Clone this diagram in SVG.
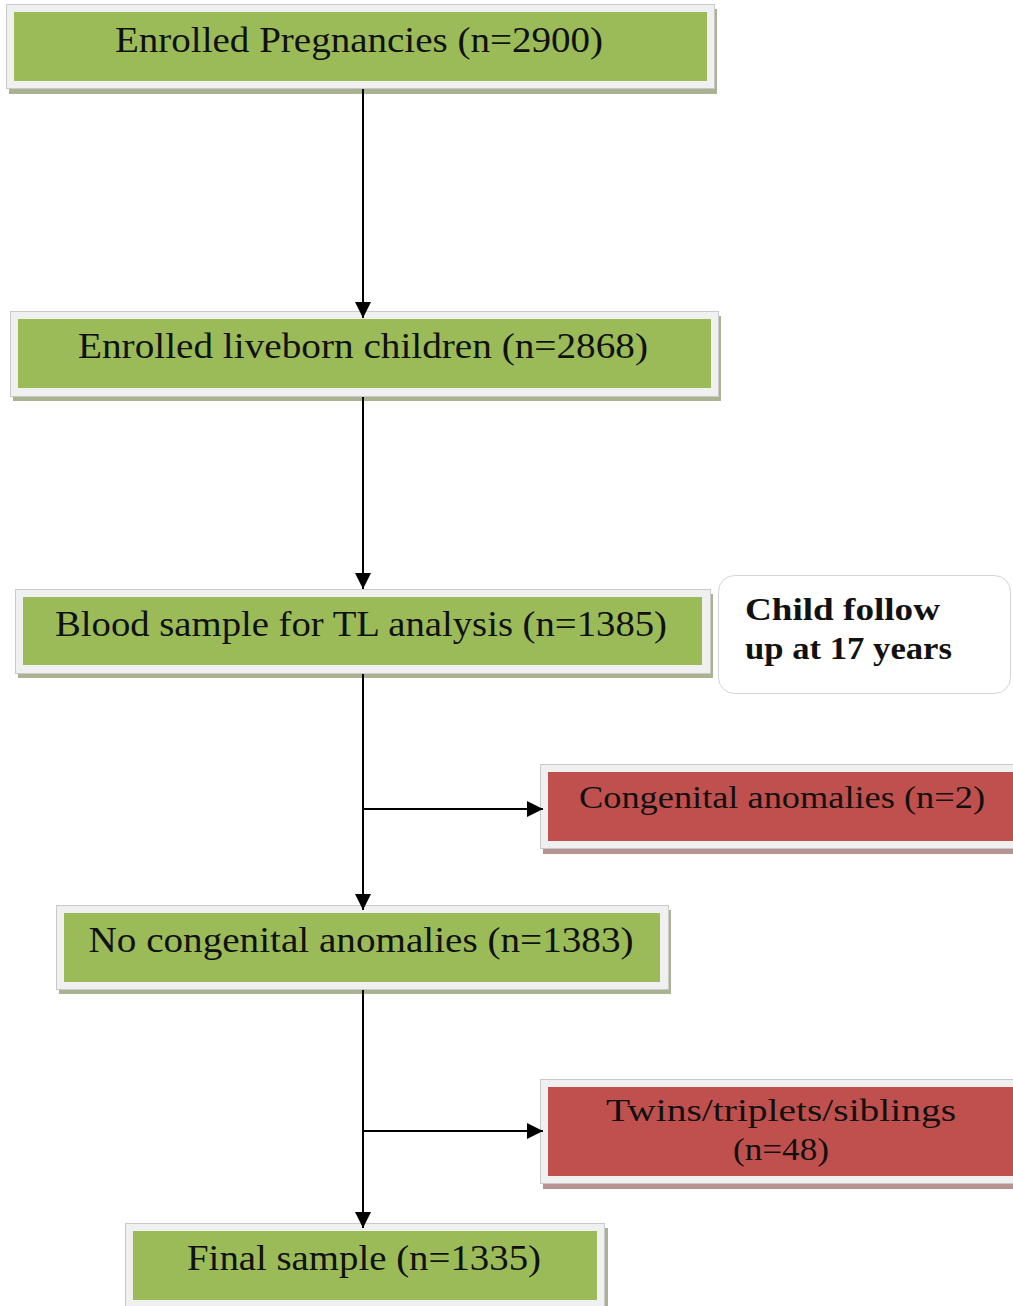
<svg xmlns="http://www.w3.org/2000/svg" width="1013" height="1306" viewBox="0 0 1013 1306">
  <style>
    .frame { fill: #f0f0f0; stroke: #c9c9c9; stroke-width: 1; }
    .shadow-g { fill: #a9b291; }
    .shadow-r { fill: #b79392; }
    .green { fill: #9bbb59; }
    .red { fill: #c0504d; }
    .label { font-family: "Liberation Serif", "Times New Roman", serif; fill: #111; }
    .big { font-size: 36px; }
    .mid { font-size: 31px; }
    .note { font-size: 31px; font-weight: bold; }
    .conn { stroke: #000; stroke-width: 2; fill: none; }
  </style>
  <defs>
    <marker id="arrow" viewBox="0 0 16 16" refX="16" refY="8" markerWidth="16" markerHeight="16" markerUnits="userSpaceOnUse" orient="auto">
      <path d="M0,0 L16,8 L0,16 z" fill="#000"/>
    </marker>
  </defs>
  <rect width="1013" height="1306" fill="#ffffff"/>

  <g id="enrolled-pregnancies">
    <rect class="shadow-g" x="9" y="9" width="708" height="85"/>
    <rect class="frame" x="6.5" y="4.5" width="708" height="84"/>
    <rect class="green" x="14" y="12" width="693" height="69"/>
    <text class="label big" x="359" y="52" text-anchor="middle" textLength="488" lengthAdjust="spacingAndGlyphs">Enrolled Pregnancies (n=2900)</text>
  </g>

  <g id="liveborn-children">
    <rect class="shadow-g" x="13" y="316" width="708" height="85"/>
    <rect class="frame" x="10.5" y="311.5" width="708" height="85"/>
    <rect class="green" x="18" y="319" width="693" height="69"/>
    <text class="label big" x="363" y="358" text-anchor="middle" textLength="570" lengthAdjust="spacingAndGlyphs">Enrolled liveborn children (n=2868)</text>
  </g>

  <g id="blood-sample">
    <rect class="shadow-g" x="18" y="594" width="695" height="84"/>
    <rect class="frame" x="15.5" y="589.5" width="695" height="84"/>
    <rect class="green" x="23" y="597" width="679" height="68"/>
    <text class="label big" x="361" y="636" text-anchor="middle" textLength="612" lengthAdjust="spacingAndGlyphs">Blood sample for TL analysis (n=1385)</text>
  </g>

  <g id="follow-up-note">
    <rect x="718.5" y="575.5" width="292" height="118" rx="16" ry="16" fill="#ffffff" stroke="#d4d4d4" stroke-width="1"/>
    <text class="label note" x="745" y="620" textLength="195" lengthAdjust="spacingAndGlyphs">Child follow</text>
    <text class="label note" x="745" y="659" textLength="207" lengthAdjust="spacingAndGlyphs">up at 17 years</text>
  </g>

  <g id="congenital-anomalies">
    <rect class="shadow-r" x="543" y="769" width="475" height="85"/>
    <rect class="frame" x="540.5" y="764.5" width="480" height="84"/>
    <rect class="red" x="548" y="772" width="470" height="69"/>
    <text class="label mid" x="782" y="808" text-anchor="middle" textLength="406" lengthAdjust="spacingAndGlyphs">Congenital anomalies (n=2)</text>
  </g>

  <g id="no-congenital-anomalies">
    <rect class="shadow-g" x="59" y="910" width="612" height="84"/>
    <rect class="frame" x="56.5" y="905.5" width="612" height="84"/>
    <rect class="green" x="64" y="913" width="596" height="69"/>
    <text class="label big" x="361" y="952" text-anchor="middle" textLength="545" lengthAdjust="spacingAndGlyphs">No congenital anomalies (n=1383)</text>
  </g>

  <g id="multiples-siblings">
    <rect class="shadow-r" x="543" y="1084" width="475" height="105"/>
    <rect class="frame" x="540.5" y="1079.5" width="480" height="104"/>
    <rect class="red" x="548" y="1087" width="470" height="89"/>
    <text class="label mid" x="781" y="1121" text-anchor="middle" textLength="350" lengthAdjust="spacingAndGlyphs">Twins/triplets/siblings</text>
    <text class="label mid" x="781" y="1160" text-anchor="middle" textLength="96" lengthAdjust="spacingAndGlyphs">(n=48)</text>
  </g>

  <g id="final-sample">
    <rect class="shadow-g" x="128" y="1228" width="480" height="90"/>
    <rect class="frame" x="125.5" y="1223.5" width="479" height="90"/>
    <rect class="green" x="133" y="1231" width="464" height="69"/>
    <text class="label big" x="364" y="1270" text-anchor="middle" textLength="354" lengthAdjust="spacingAndGlyphs">Final sample (n=1335)</text>
  </g>

  <!-- connectors, drawn last so the arrow tips sit over the box frames -->
  <g id="connectors">
    <line class="conn" x1="363" y1="89" x2="363" y2="318" marker-end="url(#arrow)"/>
    <line class="conn" x1="363" y1="397" x2="363" y2="589" marker-end="url(#arrow)"/>
    <line class="conn" x1="363" y1="674" x2="363" y2="910" marker-end="url(#arrow)"/>
    <line class="conn" x1="363" y1="809" x2="543" y2="809" marker-end="url(#arrow)"/>
    <line class="conn" x1="363" y1="990" x2="363" y2="1228" marker-end="url(#arrow)"/>
    <line class="conn" x1="363" y1="1131" x2="543" y2="1131" marker-end="url(#arrow)"/>
  </g>
</svg>
